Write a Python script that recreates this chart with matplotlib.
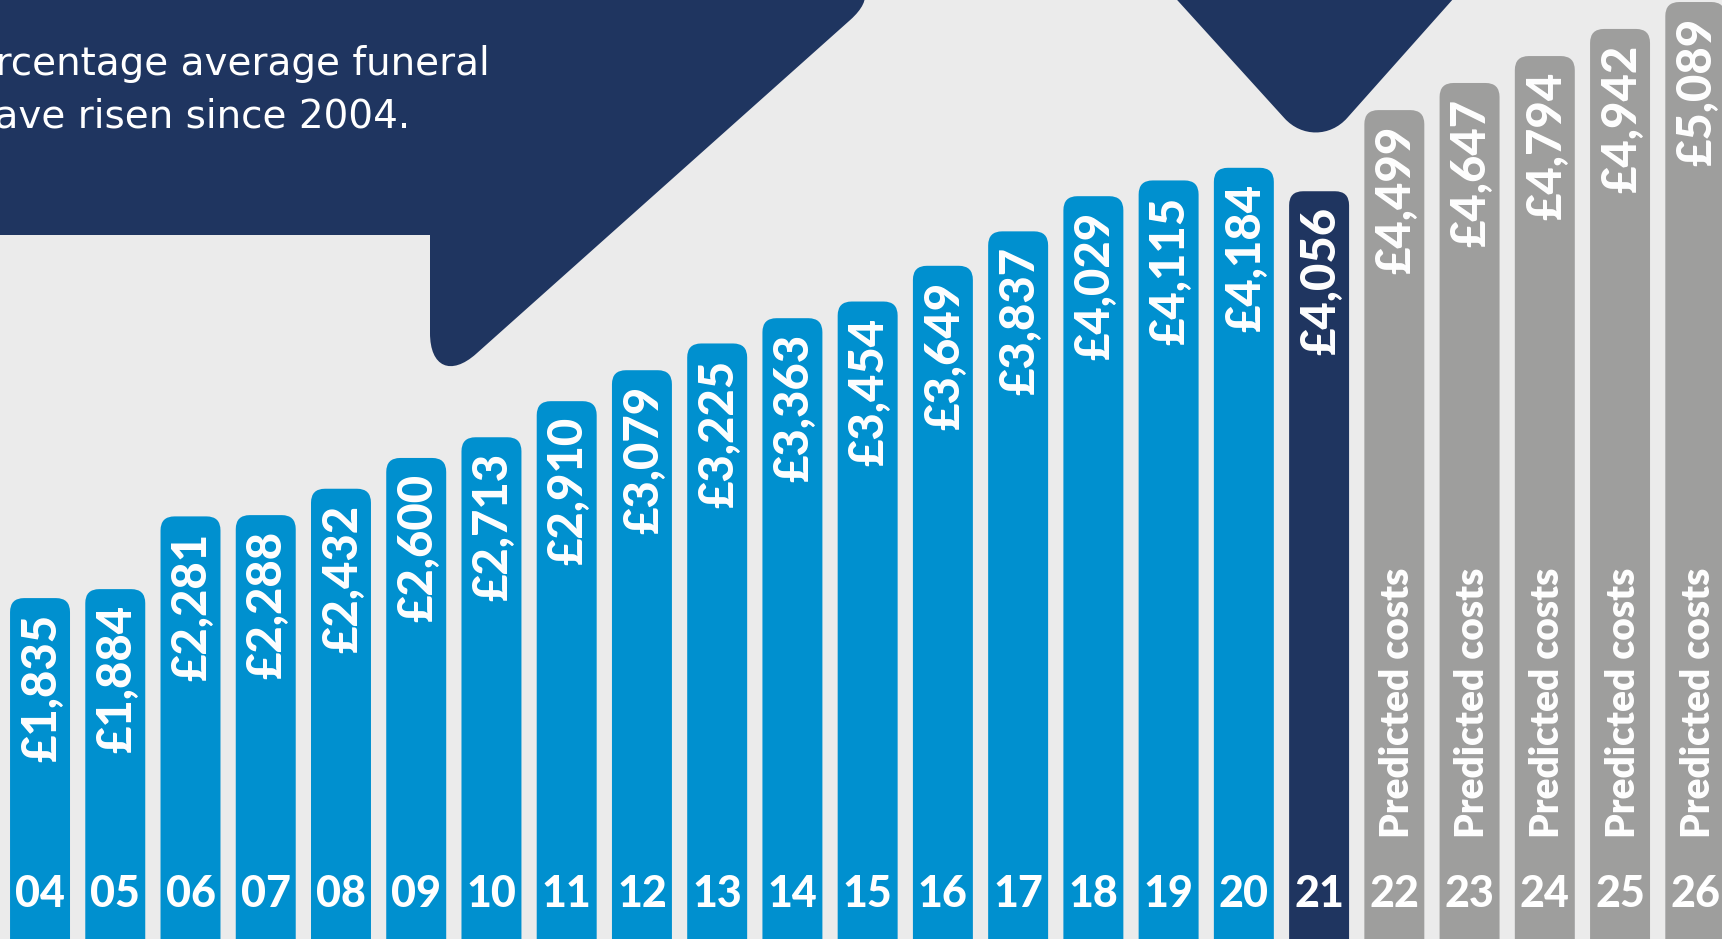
import numpy as np
import matplotlib
matplotlib.use("Agg")
import matplotlib.pyplot as plt
from matplotlib.patches import FancyBboxPatch, PathPatch
from matplotlib.path import Path

# average funeral cost per year, 2004-2026 (22-26 are predictions)
years = ['04', '05', '06', '07', '08', '09', '10', '11', '12', '13', '14', '15',
         '16', '17', '18', '19', '20', '21', '22', '23', '24', '25', '26']
costs = [1835, 1884, 2281, 2288, 2432, 2600, 2713, 2910, 3079, 3225, 3363, 3454,
         3649, 3837, 4029, 4115, 4184, 4056, 4499, 4647, 4794, 4942, 5089]
kind = ['past'] * 17 + ['current'] + ['predicted'] * 5
subtitle = ['percentage average funeral', 'have risen since 2004.']

BG = '#EBEBEB'
NAVY = '#1F3560'
colors = {'past': '#0090CF', 'current': NAVY, 'predicted': '#9E9E9D'}
FONT = ['Lato', 'DejaVu Sans']

W, H = 1722, 939
fig = plt.figure(figsize=(W / 100, H / 100), dpi=100, facecolor=BG)


def rounded_path(pts, radii):
    # polygon with corners smoothed by cubic curves
    verts, codes = [], []
    n = len(pts)
    for i in range(n):
        p0, p1, p2 = (np.array(pts[j], float) for j in (i - 1, i, (i + 1) % n))
        r = radii[i]
        if r == 0:
            verts.append(p1); codes.append(Path.LINETO)
            continue
        a = p1 + (p0 - p1) / np.linalg.norm(p0 - p1) * r
        b = p1 + (p2 - p1) / np.linalg.norm(p2 - p1) * r
        verts += [a, a + 0.55 * (p1 - a), b + 0.55 * (p1 - b), b]
        codes += [Path.LINETO, Path.CURVE4, Path.CURVE4, Path.CURVE4]
    codes[0] = Path.MOVETO
    verts.append(verts[0]); codes.append(Path.CLOSEPOLY)
    return Path(verts, codes)


# background shapes, pixel coordinates
bg = fig.add_axes([0, 0, 1, 1], zorder=0)
bg.set_xlim(0, W)
bg.set_ylim(H, 0)
bg.axis('off')

bubble = rounded_path([(-50, -20), (895, -20), (430, 395), (430, 235), (-50, 235)],
                      [0, 60, 62, 0, 0])
bg.add_patch(PathPatch(bubble, fc=NAVY, ec='none'))
pointer = rounded_path([(1159, -20), (1470, -20), (1316, 153)], [0, 0, 47])
bg.add_patch(PathPatch(pointer, fc=NAVY, ec='none'))

for txt, x, y in zip(subtitle, [490, 410], [75, 128]):
    bg.text(x, y, txt, ha='right', va='baseline', color='white',
            fontsize=28, family=['DejaVu Sans'])

# bars
ax = fig.add_axes([0, 0, 1, 1], zorder=1)
ax.patch.set_alpha(0)
ax.set_xlim(-0.532, 22.355)
ax.set_ylim(-26, 5100)
ax.axis('off')

bw = 0.797
px_x = (22.355 + 0.532) / W       # x data per pixel
px_y = (5100 + 26) / H            # y data per pixel
rad = 14 * px_x
for i, (v, k) in enumerate(zip(costs, kind)):
    bar = FancyBboxPatch((i - bw / 2, -800), bw, v + 800,
                         boxstyle=f'round,pad=0,rounding_size={rad}',
                         mutation_aspect=px_y / px_x,
                         fc=colors[k], ec='none')
    ax.add_patch(bar)
    ax.annotate(f'£{v:,}', (i, v), xytext=(2, -16), textcoords='offset pixels',
                rotation=90, ha='center', va='top', color='white',
                fontsize=34, fontweight='black', family=FONT)
    ax.text(i, 1 - 907 / H, years[i], transform=ax.get_xaxis_transform(),
            ha='center', va='baseline', color='white',
            fontsize=31, fontweight='black', family=FONT)
    if k == 'predicted':
        ax.annotate('Predicted costs', (i, 1 - 838 / H), xycoords=ax.get_xaxis_transform(),
                    xytext=(3, 0), textcoords='offset pixels',
                    rotation=90, ha='center', va='bottom', color='white',
                    fontsize=28, fontweight='heavy', family=FONT)

fig.savefig('out.png', dpi=100, facecolor=BG)
